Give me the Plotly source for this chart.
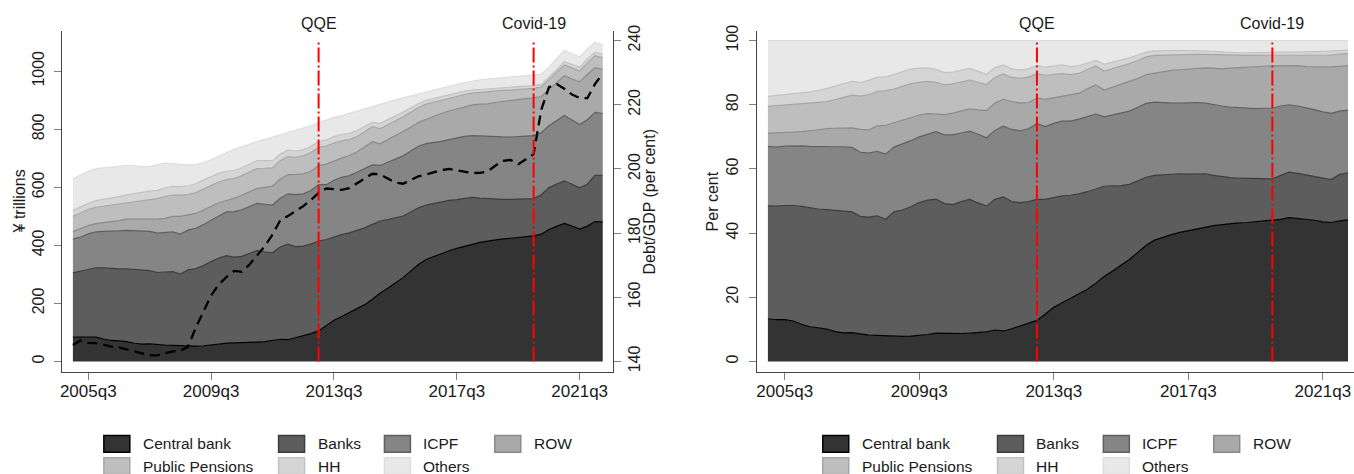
import plotly.graph_objects as go

# ---------------- data ----------------
quarters = [f"{y}q{q}" for y in range(2005, 2023) for q in range(1, 5)][:70]  # 2005q1..2022q2
tick_labels = ["2005q3", "2009q3", "2013q3", "2017q3", "2021q3"]
holders = ["Central bank", "Banks", "ICPF", "ROW", "Public Pensions", "HH", "Others"]
events = [("QQE", "2013q1"), ("Covid-19", "2020q1")]

# total JGB stock, ¥ trillions
total_tn = [
    629, 642, 655, 664, 667, 669, 672, 675, 674, 671,
    672, 678, 683, 681, 679, 677, 678, 685, 695, 708,
    720, 731, 740, 750, 758, 765, 773, 781, 788, 795,
    803, 812, 822, 832, 841, 847, 855, 863, 870, 878,
    886, 893, 901, 908, 915, 922, 929, 935, 942, 949,
    955, 961, 966, 970, 973, 976, 978, 980, 982, 984,
    986, 990, 1015, 1043, 1071, 1060, 1049, 1077, 1100, 1091,
]

# cumulative shares (per cent) at the top of each holder band
cum_cb = [
    13.3, 13.0, 13.0, 12.6, 11.6, 10.8, 10.5, 10.1, 9.3, 8.9,
    9.0, 8.5, 8.2, 8.1, 8.0, 7.8, 7.8, 7.9, 8.1, 8.4,
    8.8, 8.7, 8.7, 8.7, 8.8, 8.9, 9.2, 9.8, 9.5, 10.2,
    11.0, 11.8, 12.8, 14.8, 16.9, 18.3, 19.7, 21.0, 22.5, 24.4,
    26.5, 28.2, 29.9, 31.8, 34.0, 36.2, 37.8, 38.7, 39.5, 40.2,
    40.8, 41.3, 41.8, 42.3, 42.6, 43.0, 43.2, 43.3, 43.5, 43.7,
    43.9, 44.3, 44.8, 44.6, 44.4, 44.0, 43.5, 43.3, 43.8, 44.1,
]
cum_banks = [
    48.5, 48.4, 48.6, 48.6, 48.3, 47.8, 47.5, 47.3, 47.1, 46.9,
    46.6, 45.2, 45.0, 45.4, 44.3, 46.6, 47.2, 48.2, 49.5, 50.3,
    50.6, 49.2, 48.9, 49.8, 50.5, 49.4, 48.4, 50.5, 51.3, 49.8,
    49.5, 49.8, 50.5, 50.5, 51.0, 51.6, 51.8, 52.2, 52.9, 53.8,
    54.6, 54.7, 54.8, 55.2, 56.3, 57.4, 58.0, 58.2, 58.4, 58.5,
    58.4, 58.5, 58.5, 58.0, 57.6, 57.3, 57.1, 57.0, 56.9, 56.9,
    56.9, 58.0, 59.0, 58.6, 58.1, 57.6, 57.0, 56.7, 58.3, 58.8,
]
cum_icpf = [
    67.0, 66.8, 67.1, 67.2, 67.2, 67.0, 66.9, 66.9, 66.9, 66.9,
    66.7, 65.2, 64.9, 65.5, 64.6, 66.8, 67.7, 68.8, 70.0, 70.8,
    71.6, 70.6, 70.6, 71.2, 71.8, 70.8, 69.7, 72.0, 73.3, 72.3,
    71.9, 72.5, 74.1, 73.2, 74.2, 74.9, 74.9, 75.5, 76.3, 77.1,
    76.2, 76.8, 77.5, 78.0, 79.2, 80.4, 80.8, 80.6, 80.5, 80.5,
    80.6, 80.7, 80.5, 80.0, 79.6, 79.3, 79.1, 78.9, 78.8, 78.9,
    78.9, 79.6, 80.0, 79.6, 79.1, 78.5, 77.8, 77.3, 78.0, 78.3,
]
cum_row = [
    71.1, 71.3, 71.4, 71.5, 71.6, 71.8, 72.2, 72.6, 72.7, 72.7,
    72.8, 72.3, 72.2, 73.4, 73.6, 74.4, 75.2, 76.2, 76.8, 77.2,
    77.0, 76.9, 77.4, 78.0, 78.7, 78.4, 78.2, 80.5, 81.7, 81.0,
    80.5, 80.7, 82.1, 81.7, 82.2, 82.7, 83.0, 83.6, 85.0, 86.2,
    84.6, 85.5, 86.4, 87.3, 88.2, 89.4, 89.9, 90.3, 90.7, 90.9,
    91.1, 91.4, 91.5, 91.4, 91.2, 91.4, 91.6, 91.8, 91.9, 92.0,
    92.1, 92.2, 92.3, 92.2, 91.9, 91.8, 91.8, 91.8, 92.0, 92.2,
]
cum_pp = [
    79.5, 79.7, 79.9, 80.0, 80.2, 80.5, 80.7, 81.0, 81.6, 82.3,
    83.0, 82.7, 83.2, 84.2, 84.4, 84.9, 85.8, 86.6, 87.0, 87.3,
    87.0, 86.2, 86.5, 87.1, 87.7, 87.0, 86.3, 88.5, 89.6, 88.5,
    88.2, 88.6, 89.7, 89.2, 89.5, 89.7, 89.4, 89.8, 91.0, 92.1,
    90.5, 91.2, 92.0, 92.8, 93.8, 94.9, 95.4, 95.5, 95.6, 95.6,
    95.7, 95.7, 95.7, 95.6, 95.6, 95.5, 95.5, 95.4, 95.4, 95.4,
    95.4, 95.5, 95.6, 95.5, 95.4, 95.4, 95.4, 95.5, 95.8, 95.9,
]
cum_hh = [
    82.6, 82.9, 83.2, 83.4, 83.6, 84.0, 84.5, 85.0, 85.8, 86.6,
    87.3, 86.9, 87.6, 88.6, 88.7, 89.4, 90.3, 91.2, 91.4, 91.5,
    91.0, 90.0, 90.2, 90.8, 91.3, 90.4, 89.5, 91.5, 92.4, 91.2,
    90.8, 91.2, 92.3, 91.7, 92.1, 92.4, 91.9, 92.2, 93.0, 93.8,
    92.6, 93.2, 93.9, 94.6, 95.5, 96.4, 96.8, 96.9, 96.9, 96.9,
    96.9, 96.9, 96.8, 96.6, 96.4, 96.3, 96.2, 96.2, 96.3, 96.4,
    96.4, 96.4, 96.4, 96.4, 96.4, 96.5, 96.6, 96.8, 96.9, 97.0,
]
cum_others = [100.0] * 70

# Debt / GDP, per cent
debt_gdp = [
    145.1, 146.5, 145.8, 145.7, 145.2, 144.6, 144.4, 143.8, 143.0, 142.4,
    141.9, 141.9, 142.6, 143.1, 143.3, 144.6, 150.5, 155.5, 160.5, 164.0,
    166.3, 168.2, 167.9, 170.2, 173.0, 176.0, 179.5, 184.0, 185.3, 186.8,
    188.4, 190.3, 192.5, 193.9, 193.8, 193.5, 194.0, 195.4, 197.0, 198.5,
    198.3, 197.0, 195.7, 195.4, 196.5, 197.7, 198.3, 199.0, 199.6, 200.0,
    199.6, 199.1, 198.7, 198.8, 199.2, 201.0, 202.5, 202.8, 201.5, 203.0,
    204.6, 218.5, 225.5, 226.5, 225.0, 223.2, 222.1, 222.1, 226.5, 229.7,
]

# holdings by sector (¥ trillions) from the band boundaries
cums = [cum_cb, cum_banks, cum_icpf, cum_row, cum_pp, cum_hh, cum_others]
holdings = []
prev = [0.0] * len(quarters)
for c in cums:
    holdings.append([(hi - lo) * tot / 100.0 for hi, lo, tot in zip(c, prev, total_tn)])
    prev = c

# ---------------- style ----------------
fills = ["#333333", "#5d5d5d", "#858585", "#a9a9a9", "#bebebe", "#d5d5d5", "#e8e8e8"]
edges = ["#000000", "#3c3c3c", "#5f5f5f", "#8a8a8a", "#a6a6a6", "#c2c2c2", "#dddddd"]
FONT = "Liberation Sans, Arial, sans-serif"
W, H = 1354, 474


def px_x(x):
    return x / W


def px_y(y):
    return 1 - y / H


fig = go.Figure()

for i, name in enumerate(holders):
    fig.add_trace(go.Scatter(
        x=quarters, y=holdings[i], name=name, mode="lines",
        stackgroup="levels", fillcolor=fills[i],
        line=dict(color=edges[i], width=1.2),
        xaxis="x", yaxis="y", showlegend=False, hoverinfo="skip",
    ))

fig.add_trace(go.Scatter(
    x=quarters, y=debt_gdp, name="Debt/GDP", mode="lines",
    line=dict(color="black", width=2.3, dash="10px,6px"),
    xaxis="x", yaxis="y2", showlegend=False, hoverinfo="skip",
))

for i, name in enumerate(holders):
    fig.add_trace(go.Scatter(
        x=quarters, y=holdings[i], name=name, mode="lines",
        stackgroup="shares", groupnorm="percent" if i == 0 else None,
        fillcolor=fills[i], line=dict(color=edges[i], width=1.2),
        xaxis="x2", yaxis="y3", showlegend=False, hoverinfo="skip",
    ))

# ---------------- axes ----------------
x_dom_l = [px_x(60), px_x(612)]
x_dom_r = [px_x(756), 1.0]
y_dom = [px_y(371), px_y(25)]

common_axis = dict(
    showline=True, linecolor="#444444", linewidth=1,
    ticks="outside", ticklen=7, tickcolor="#808080", tickwidth=1,
    showgrid=False, zeroline=False,
    tickfont=dict(family=FONT, size=16, color="#1a1a1a"),
)
xfont = dict(family=FONT, size=17, color="#1a1a1a")

fig.update_layout(
    width=W, height=H,
    margin=dict(l=0, r=0, t=0, b=0),
    paper_bgcolor="white", plot_bgcolor="white",
    showlegend=False,
    font=dict(family=FONT, size=16, color="#1a1a1a"),
    xaxis=dict(common_axis, domain=x_dom_l, anchor="y", type="category",
               range=[-1.43, 70.35], tickvals=tick_labels, ticktext=tick_labels,
               tickfont=xfont, ticklabelstandoff=-4),
    yaxis=dict(common_axis, domain=y_dom, anchor="x",
               range=[-37.4, 1139.5], tickvals=[0, 200, 400, 600, 800, 1000],
               tickangle=-90, ticklabelstandoff=4),
    yaxis2=dict(common_axis, overlaying="y", side="right", anchor="x",
                range=[136.6, 243.1], tickvals=[140, 160, 180, 200, 220, 240], tickangle=-90),
    xaxis2=dict(common_axis, domain=x_dom_r, anchor="y3", type="category",
                range=[-1.31, 69.71], tickvals=tick_labels, ticktext=tick_labels,
                tickfont=xfont, ticklabelstandoff=-4),
    yaxis3=dict(common_axis, domain=y_dom, anchor="x2",
                range=[-3.385, 103.08], tickvals=[0, 20, 40, 60, 80, 100],
                tickangle=-90, ticklabelstandoff=4),
)

# ---------------- event lines ----------------
shapes = []
annotations = []
for xref in ["x", "x2"]:
    for label, q in events:
        idx = quarters.index(q)
        shapes.append(dict(
            type="line", xref=xref, yref="paper", x0=idx, x1=idx,
            y0=px_y(360), y1=px_y(37),
            line=dict(color="#ff0000", width=2, dash="15px,3px,2px,3px"),
        ))
        annotations.append(dict(
            xref=xref, yref="paper", x=idx, y=px_y(18), text=label,
            showarrow=False, xanchor="center", yanchor="middle",
            font=dict(family=FONT, size=16, color="#1a1a1a"),
        ))

# ---------------- axis titles ----------------
for text, x in [("¥ trillions", 18), ("Debt/GDP (per cent)", 648), ("Per cent", 712)]:
    annotations.append(dict(
        xref="paper", yref="paper", x=px_x(x), y=px_y(198), text=text,
        textangle=-90, showarrow=False, xanchor="center", yanchor="middle",
        font=dict(family=FONT, size=16, color="#1a1a1a"),
    ))

# ---------------- legends (drawn per panel) ----------------
col_x = [102, 277, 383, 493.5]
row_y = [443.5, 466.0]
for offset in [0, 720]:
    for i, name in enumerate(holders):
        r, c = divmod(i, 4)
        x0 = col_x[c] + offset
        yc = row_y[r]
        shapes.append(dict(
            type="rect", xref="paper", yref="paper",
            x0=px_x(x0), x1=px_x(x0 + 26), y0=px_y(yc + 8.5), y1=px_y(yc - 8.5),
            fillcolor=fills[i], line=dict(color=edges[i], width=1.5),
        ))
        annotations.append(dict(
            xref="paper", yref="paper", x=px_x(x0 + 37), y=px_y(yc), text=name,
            showarrow=False, xanchor="left", yanchor="middle",
            font=dict(family=FONT, size=15.5, color="#1a1a1a"),
        ))

fig.update_layout(shapes=shapes, annotations=annotations)

fig.write_html("out.html")
